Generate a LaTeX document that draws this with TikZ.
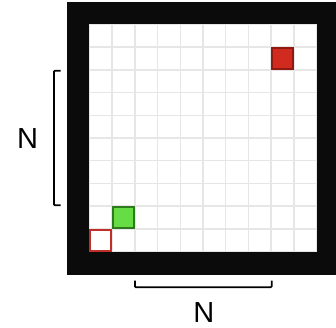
\documentclass[tikz,border=0pt]{standalone}
\usepackage{fontspec}
\setmainfont{Liberation Sans}
\definecolor{frame}{HTML}{0B0B0B}
\definecolor{gridc}{HTML}{E6E6E6}
\definecolor{redfill}{HTML}{D12B1F}
\definecolor{redline}{HTML}{8E1A12}
\definecolor{redborder}{HTML}{C0302A}
\definecolor{greenfill}{HTML}{66DD44}
\definecolor{greenline}{HTML}{2F7A1F}
\begin{document}
\begin{tikzpicture}[x=1pt,y=-1pt,
  bracket/.style={line width=1.7pt, rounded corners=1pt},
  lab/.style={font=\fontsize{29}{29}\selectfont, inner sep=0pt}]
\useasboundingbox (0,0) rectangle (336,328);
\def\cs{22.74}
\def\xo{89.3}
\def\yo{24.3}
% frame
\fill[frame] (67,1.8) rectangle (335.5,275);
\fill[white] (\xo,\yo) rectangle (316.7,252.3);
% grid
\foreach \i in {0,...,10}{
  \draw[gridc, line width=1.5pt] ({\xo+\i*\cs},\yo) -- ({\xo+\i*\cs},252.3);
  \draw[gridc, line width=1.5pt] (\xo,{\yo+\i*\cs}) -- (316.7,{\yo+\i*\cs});
}
% goal cell (red)
\draw[fill=redfill, draw=redline, line width=1.6pt]
  ({\xo+8*\cs+0.8},{\yo+1*\cs+0.8}) rectangle ({\xo+9*\cs-0.8},{\yo+2*\cs-0.8});
% agent cell (green)
\draw[fill=greenfill, draw=greenline, line width=1.6pt]
  ({\xo+1*\cs+0.8},{\yo+8*\cs+0.8}) rectangle ({\xo+2*\cs-0.8},{\yo+9*\cs-0.8});
% start cell (red outline)
\draw[fill=white, draw=redborder, line width=1.6pt]
  ({\xo+0*\cs+0.8},{\yo+9*\cs+0.8}) rectangle ({\xo+1*\cs-0.8},{\yo+10*\cs-0.8});
% left bracket
\coordinate (lt) at (60.7,70.7);
\coordinate (lb) at (60.7,205.3);
\draw[bracket] (lt) -- (54,70.7) -- (54,205.3) -- (lb);
\node[lab] (nleft) at (27.5,138.8) {N};
% bottom bracket
\coordinate (bl) at (135,280.5);
\coordinate (br) at (271.7,280.5);
\draw[bracket] (bl) -- (135,287.3) -- (271.7,287.3) -- (br);
\node[lab] (nbottom) at (203.8,312.2) {N};
\end{tikzpicture}
\end{document}
